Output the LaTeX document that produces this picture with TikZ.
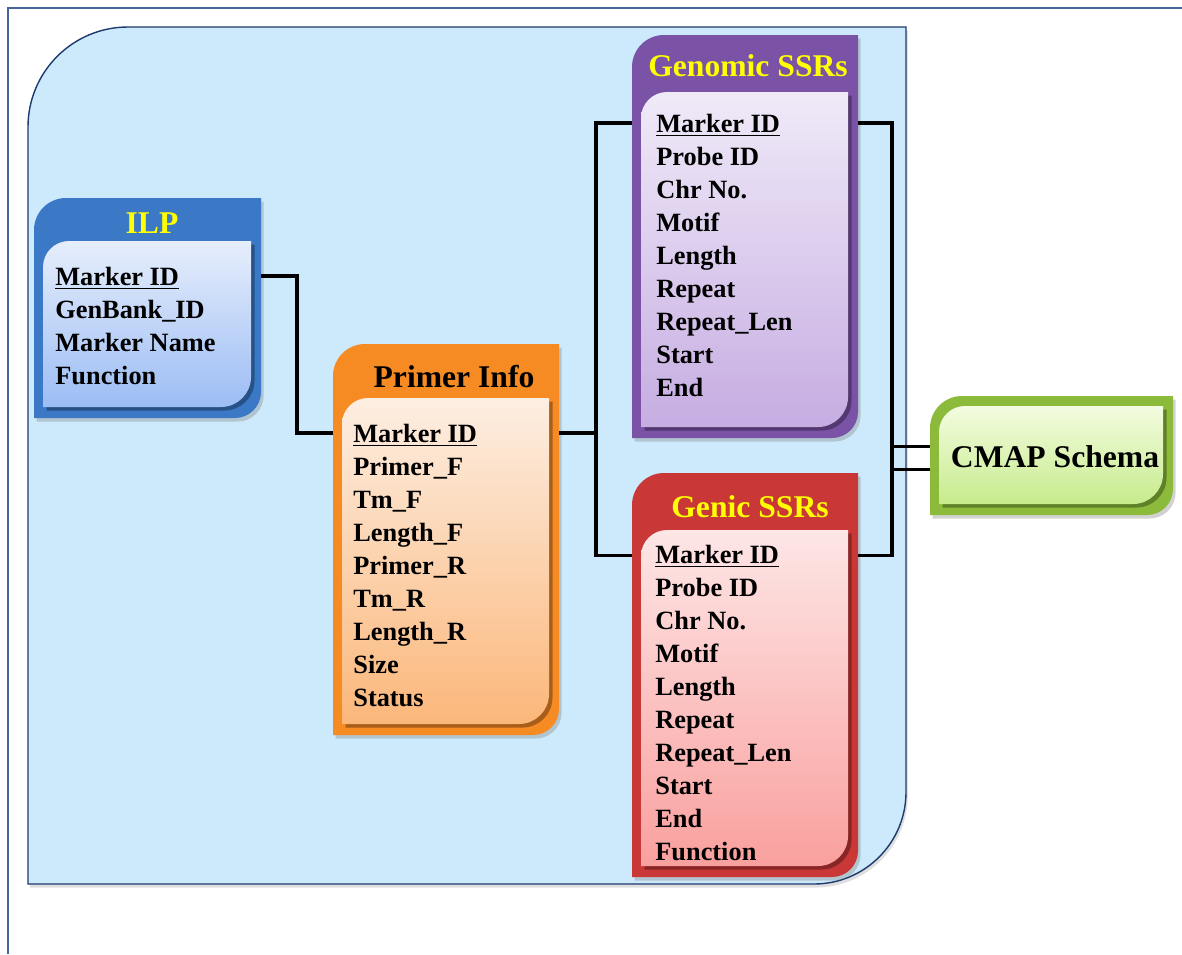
\documentclass[tikz,border=0pt]{standalone}
\usepackage{fontspec}
\setmainfont{Liberation Serif}
\usetikzlibrary{matrix,fit,calc,shadows}

\definecolor{framecol}{HTML}{46659B}
\definecolor{regionfill}{HTML}{CCEAFB}
\definecolor{regionline}{HTML}{1F3A6E}
\definecolor{titleyellow}{HTML}{FFFF00}
\definecolor{ilpmain}{HTML}{3B78C6}
\definecolor{ilptop}{HTML}{E6EEFC}
\definecolor{ilpbot}{HTML}{9CBDF4}
\definecolor{primermain}{HTML}{F68B24}
\definecolor{primertop}{HTML}{FDEEE2}
\definecolor{primerbot}{HTML}{FBB77A}
\definecolor{genomicmain}{HTML}{7A52A6}
\definecolor{genomictop}{HTML}{F0EAF8}
\definecolor{genomicbot}{HTML}{C6ADE2}
\definecolor{genicmain}{HTML}{C93837}
\definecolor{genictop}{HTML}{FDE6E6}
\definecolor{genicbot}{HTML}{F9A09E}
\definecolor{cmapmain}{HTML}{8CBB3B}
\definecolor{cmaptop}{HTML}{F3FCE0}
\definecolor{cmapbot}{HTML}{C7EB8C}

% table box: name, x1, y1, x2, y2, inner top, main, inner top colour, inner bottom colour
\newcommand{\tablebox}[9]{%
  \fill[#7, drop shadow={shadow xshift=1.5pt,shadow yshift=-2pt,opacity=.35}]
    (#2,-#5) -- (#2,-#3-32) arc[start angle=180,end angle=90,radius=32]
    -- (#4,-#3) -- (#4,-#5+26) arc[start angle=0,end angle=-90,radius=26] -- cycle;
  \shade[top color=#8, bottom color=#9,
    drop shadow={shadow xshift=2pt,shadow yshift=-2pt,fill=#7!55!black,opacity=.7}]
    (#2+9,-#5+11) -- (#2+9,-#6-26) arc[start angle=180,end angle=90,radius=26]
    -- (#4-10,-#6) -- (#4-10,-#5+41) arc[start angle=0,end angle=-90,radius=30] -- cycle;
  \path (#2,-#3) coordinate (#1nw) (#4,-#5) coordinate (#1se);
  \node[inner sep=0pt, fit=(#1nw)(#1se)] (#1) {};
}

\tikzset{
  tabrows/.style={matrix of nodes, anchor=north west, inner sep=0pt, row sep=0pt,
    nodes={anchor=west, inner sep=0pt, text height=0.46cm, text depth=0.2cm,
      font=\fontsize{15}{18}\selectfont\bfseries}},
  tabtitle/.style={font=\fontsize{18}{20}\selectfont\bfseries},
  link/.style={line width=2.1pt, black}
}

\begin{document}
\begin{tikzpicture}[x=0.02cm,y=0.02cm]
  \useasboundingbox (0,0) rectangle (1182,-954);
  \fill[white] (0,0) rectangle (1182,-954);
  \draw[framecol, line width=1.6pt] (8,-954) -- (8,-8) -- (1182,-8);

  % background region
  \filldraw[fill=regionfill, draw=regionline, line width=0.8pt,
    drop shadow={shadow xshift=1pt,shadow yshift=-2pt,opacity=.25}]
    (28,-884) -- (28,-127) arc[start angle=180,end angle=90,radius=100]
    -- (906,-27) -- (906,-792) arc[start angle=0,end angle=-90,radius=92] -- cycle;

  % tables
  \tablebox{ilpbox}{34}{198}{261}{418}{241}{ilpmain}{ilptop}{ilpbot}
  \tablebox{primerbox}{333}{344}{559}{735}{398}{primermain}{primertop}{primerbot}
  \tablebox{genomicbox}{632}{35}{858}{438}{92}{genomicmain}{genomictop}{genomicbot}
  \tablebox{genicbox}{632}{473}{858}{877}{530}{genicmain}{genictop}{genicbot}
  \tablebox{cmapbox}{930}{396}{1173}{515}{406}{cmapmain}{cmaptop}{cmapbot}

  \node[tabtitle, text=titleyellow] (ilptitle) at (152,-223) {ILP};
  \node[tabtitle] (primertitle) at (454,-377) {Primer Info};
  \node[tabtitle, text=titleyellow] (genomictitle) at (748,-66) {Genomic SSRs};
  \node[tabtitle, text=titleyellow] (genictitle) at (750,-507) {Genic SSRs};
  \node[tabtitle] (cmaptitle) at (1055,-457) {CMAP Schema};

  \matrix (ilp) [tabrows] at (55,-262) {
    \underline{Marker ID} \\ GenBank\_ID \\ Marker Name \\ Function \\};
  \matrix (primer) [tabrows] at (353,-419) {
    \underline{Marker ID} \\ Primer\_F \\ Tm\_F \\ Length\_F \\ Primer\_R \\
    Tm\_R \\ Length\_R \\ Size \\ Status \\};
  \matrix (genomic) [tabrows] at (656,-109) {
    \underline{Marker ID} \\ Probe ID \\ Chr No. \\ Motif \\ Length \\
    Repeat \\ Repeat\_Len \\ Start \\ End \\};
  \matrix (genic) [tabrows] at (655,-540) {
    \underline{Marker ID} \\ Probe ID \\ Chr No. \\ Motif \\ Length \\
    Repeat \\ Repeat\_Len \\ Start \\ End \\ Function \\};

  % links
  \coordinate (j1) at (297,-350);
  \coordinate (j2) at (596,-340);
  \coordinate (j3) at (892,-300);
  \draw[link] ([yshift=0.06cm]ilp-1-1 -| ilpbox.east) -| (j1) |- ([yshift=0.06cm]primer-1-1 -| primerbox.west);
  \draw[link] ([yshift=0.06cm]primer-1-1 -| primerbox.east) -| (j2);
  \draw[link] ([yshift=0.06cm]genomic-1-1 -| genomicbox.west) -| (j2) |- ([yshift=0.03cm]genic-1-1 -| genicbox.west);
  \draw[link] ([yshift=0.06cm]genomic-1-1 -| genomicbox.east) -| (j3) |- ([yshift=0.03cm]genic-1-1 -| genicbox.east);
  \coordinate (cin1) at ($(cmapbox.west)+(0,9)$);
  \coordinate (cin2) at ($(cmapbox.west)+(0,-14)$);
  \draw[link] (cin1) -- (cin1 -| j3);
  \draw[link] (cin2) -- (cin2 -| j3);
\end{tikzpicture}
\end{document}
